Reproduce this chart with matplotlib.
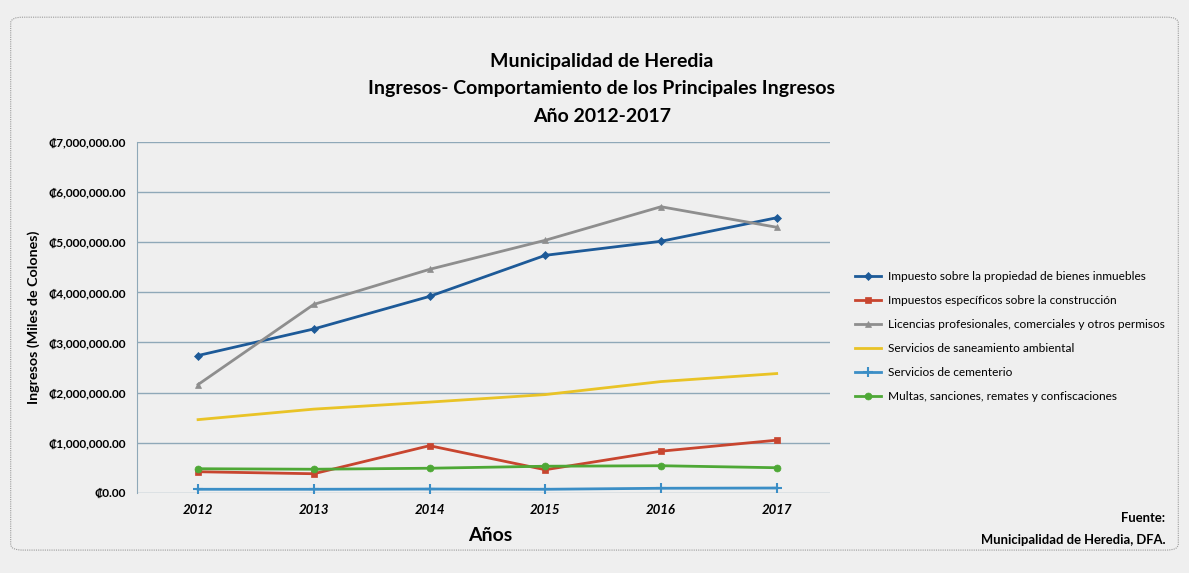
import matplotlib.pyplot as plt
from matplotlib.patches import FancyBboxPatch
from matplotlib.ticker import FuncFormatter

plt.rcParams['font.family'] = ['Lato', 'DejaVu Sans']

years = [2012, 2013, 2014, 2015, 2016, 2017]

# Miles de colones
bienes_inmuebles = [2740000, 3270000, 3920000, 4740000, 5020000, 5490000]
construccion = [420000, 380000, 940000, 460000, 830000, 1050000]
licencias = [2160000, 3760000, 4460000, 5040000, 5710000, 5300000]
saneamiento = [1460000, 1670000, 1810000, 1960000, 2220000, 2380000]
cementerio = [70000, 70000, 75000, 70000, 90000, 95000]
multas = [480000, 470000, 490000, 530000, 540000, 500000]

labels = [
    "Impuesto sobre la propiedad de bienes inmuebles",
    "Impuestos específicos sobre la construcción",
    "Licencias profesionales, comerciales y otros permisos",
    "Servicios de saneamiento ambiental",
    "Servicios de cementerio",
    "Multas, sanciones, remates y confiscaciones",
]

series = [bienes_inmuebles, construccion, licencias, saneamiento, cementerio, multas]
colors = ["#1d5a98", "#c8452f", "#8e8e8e", "#e9c326", "#3b8ec6", "#4ea836"]
markers = ["D", "s", "^", None, "+", "o"]
msizes = [4, 5, 5, 0, 7, 5]

fig = plt.figure(figsize=(11.89, 5.73), dpi=100)
fig.patch.set_facecolor("#efefef")

border = FancyBboxPatch((0.009, 0.04), 0.982, 0.93, boxstyle="round,pad=0,rounding_size=0.01",
                        transform=fig.transFigure, fill=False, edgecolor="#9a9a9a",
                        linewidth=0.8, linestyle=(0, (1, 1)))
fig.patches.append(border)

ax = fig.add_axes([0.115, 0.14, 0.583, 0.612])
ax.set_facecolor("#efefef")

for vals, lab, c, m, ms in zip(series, labels, colors, markers, msizes):
    ax.plot(years, vals, color=c, linewidth=2, marker=m, markersize=ms,
            markeredgewidth=1.5 if m == "+" else 0.5, label=lab)

ax.set_xlim(2011.47, 2017.46)
ax.set_ylim(0, 7000000)
ax.set_yticks(range(0, 7000001, 1000000))
ax.set_xticks(years)
ax.yaxis.set_major_formatter(FuncFormatter(lambda v, p: "\u20a1{:,.2f}".format(v)))
ax.grid(axis="y", color="#8fa8b8", linewidth=1)
ax.set_axisbelow(True)
for s in ["top", "right", "bottom"]:
    ax.spines[s].set_visible(False)
ax.spines["left"].set_color("#8fa8b8")
ax.tick_params(axis="both", length=0, pad=8)
for t in ax.get_yticklabels():
    t.set_fontweight("bold")
    t.set_fontsize(8.6)
for t in ax.get_xticklabels():
    t.set_fontweight("bold")
    t.set_fontstyle("italic")
    t.set_fontsize(9.5)

ax.set_ylabel("Ingresos (Miles de Colones)", fontsize=10.3, fontweight="bold")
ax.yaxis.set_label_coords(-0.14, 0.5)

fig.text(0.506, 0.892, "Municipalidad de Heredia", ha="center", va="center",
         fontsize=14, fontweight="bold")
fig.text(0.506, 0.845, "Ingresos- Comportamiento de los Principales Ingresos", ha="center",
         va="center", fontsize=14, fontweight="bold")
fig.text(0.506, 0.797, "Año 2012-2017", ha="center", va="center", fontsize=14, fontweight="bold")

fig.text(0.412, 0.066, "Años", ha="center", va="center", fontsize=14, fontweight="bold")
fig.text(0.98, 0.096, "Fuente:", ha="right", va="center", fontsize=9.4, fontweight="bold")
fig.text(0.98, 0.058, "Municipalidad de Heredia, DFA.", ha="right", va="center",
         fontsize=9.4, fontweight="bold")

leg = ax.legend(loc="center left", bbox_to_anchor=(1.02, 0.445), frameon=False,
                fontsize=8.6, handlelength=2.2, labelspacing=1.09, handletextpad=0.6)

fig.savefig("out.png", dpi=100, facecolor=fig.get_facecolor())
